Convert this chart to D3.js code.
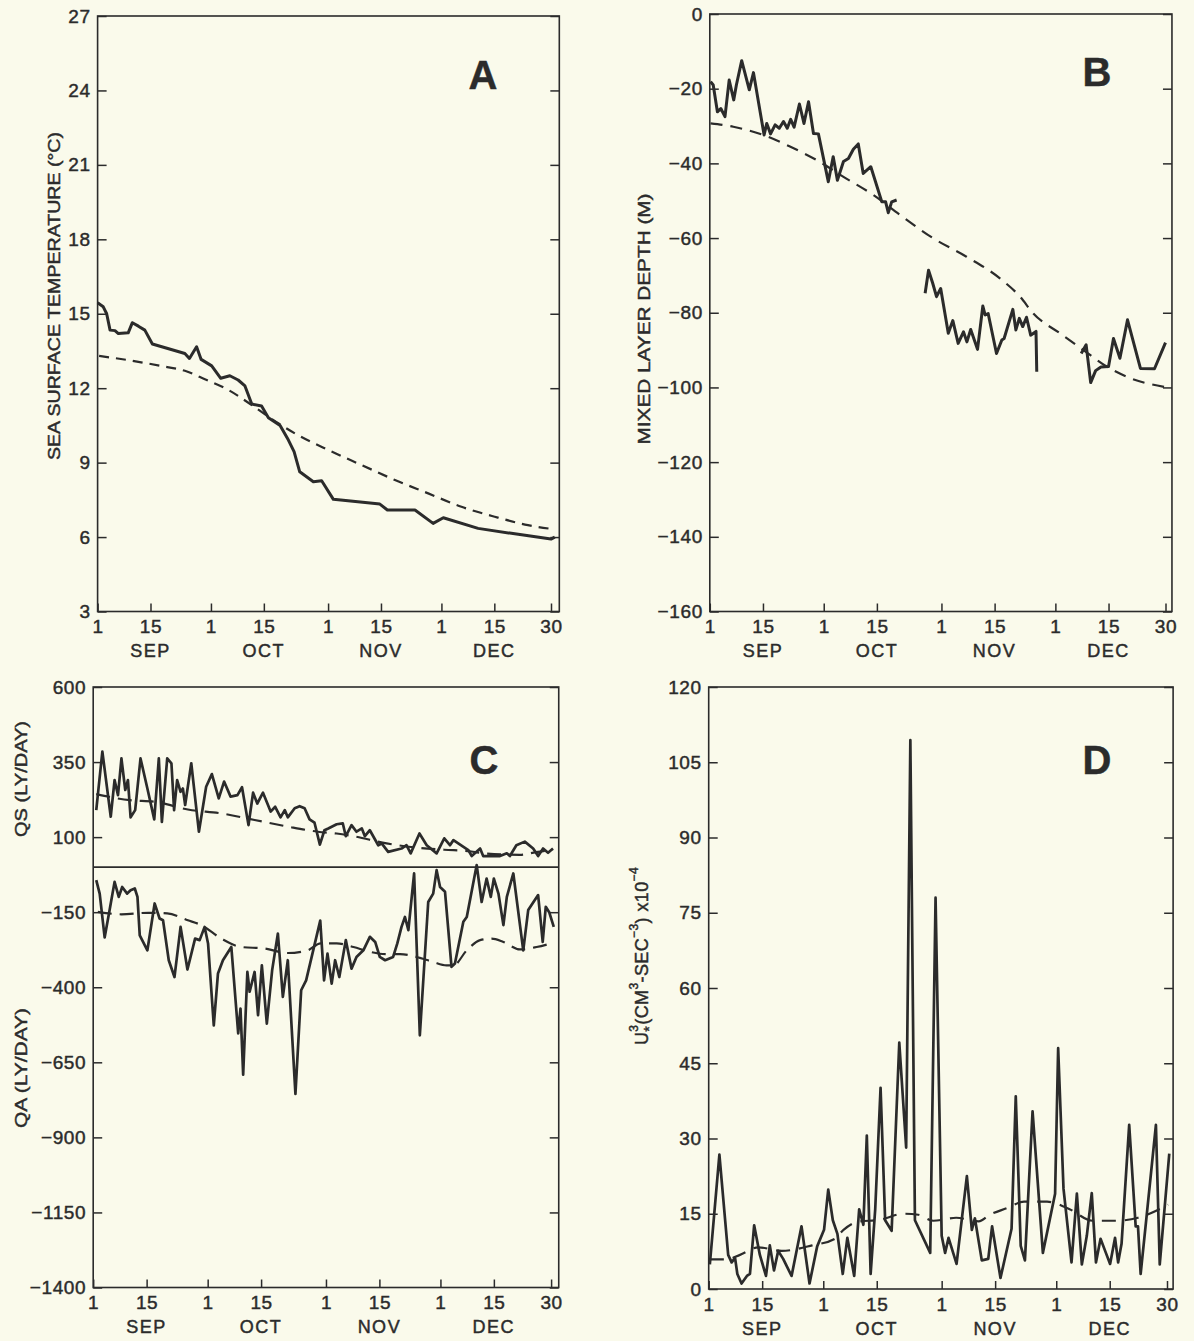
<!DOCTYPE html>
<html>
<head>
<meta charset="utf-8">
<script src="https://cdn.jsdelivr.net/npm/d3@7"></script>
<style>
  html, body { margin: 0; padding: 0; background: #fafaeb; }
  svg { display: block; }
  text { font-family: "Liberation Sans", Arial, Helvetica, sans-serif; fill: #2b2b2b;
         stroke: #2b2b2b; stroke-width: 0.45px; }
</style>
</head>
<body>
<svg id="chart" width="1194" height="1341"></svg>
<script>
// ---- Shared time axis: day 0 = 1 September, day 120 = 30 December ----
const dayTicks      = [0, 14, 30, 44, 61, 75, 91, 105, 120];
const dayTickLabels = ["1", "15", "1", "15", "1", "15", "1", "15", "30"];
const monthNames    = ["SEP", "OCT", "NOV", "DEC"];
const monthMidDays  = [14, 44, 75, 105];

// ---- A: sea surface temperature (°C), [day, value] ----
const sstObserved = [[0,15.44],[1.5,15.28],[2.4,15.0],[3.3,14.34],[4.6,14.32],[5.5,14.2],[8.1,14.23],[9.2,14.64],
  [10.8,14.5],[12.5,14.34],[14.5,13.78],[23.1,13.4],[24.3,13.2],[26.2,13.67],[27.4,13.16],[30.2,12.9],[32.6,12.4],
  [35.0,12.5],[37.2,12.33],[39.0,12.09],[40.8,11.36],[43.4,11.28],[45.2,10.81],[48.3,10.5],[50.5,9.91],[52.0,9.44],
  [53.5,8.63],[57.1,8.23],[59.3,8.27],[62.4,7.52],[74.7,7.33],[76.7,7.09],[84.0,7.09],[88.8,6.55],[91.5,6.78],
  [100.7,6.35],[109.5,6.15],[120,5.92],[121,6.0]];
const sstMean = [[0.4,13.3],[8.1,13.13],[17,12.89],[23.1,12.7],[28.4,12.36],[34.6,11.93],[40.8,11.32],[45.2,10.85],
  [52.2,10.18],[61,9.51],[69.9,8.9],[78.7,8.3],[87.5,7.76],[96.3,7.22],[105.1,6.82],[113.9,6.48],[121,6.31]];
const sstTicks = [3, 6, 9, 12, 15, 18, 21, 24, 27];

// ---- B: mixed layer depth (m); null marks a gap in the record ----
const mldObserved = [[0.2,-18.1],[0.9,-19.0],[2.0,-26.2],[2.9,-25.3],[4.0,-27.5],[5.1,-17.7],[6.3,-23.0],[7.0,-19.0],
  [8.4,-12.5],[10.4,-20.3],[11.5,-15.7],[14.3,-32.4],[15.0,-29.3],[16.0,-32.1],[17.2,-29.7],[18.3,-30.6],[19.4,-28.8],
  [20.4,-30.6],[21.3,-28.2],[22.2,-30.3],[23.6,-24.1],[24.8,-29.3],[26.0,-23.5],[27.3,-32.0],[28.6,-32.1],[31.2,-44.9],
  [32.5,-38.2],[33.6,-44.5],[35.2,-39.5],[36.5,-38.7],[37.8,-36.2],[39.1,-34.8],[40.4,-42.7],[42.4,-40.9],[45.3,-50.3],
  [46.3,-50.3],[47.0,-53.2],[47.9,-50.3],[49.2,-49.8],
  [53,null],
  [56.7,-74.8],[57.6,-68.6],[58.7,-72.1],[59.7,-75.7],[60.8,-73.5],[62.8,-85.5],[64.0,-82.1],[65.4,-88.2],[66.8,-85.1],
  [67.7,-87.8],[68.7,-84.5],[70.5,-89.8],[71.9,-78.2],[72.5,-80.6],[73.3,-80.2],[75.5,-90.9],[76.9,-87.3],[77.5,-86.9],
  [79.8,-79.1],[80.6,-84.6],[81.5,-81.5],[82.4,-83.7],[83.4,-81.2],[84.5,-86.0],[85.9,-85.0],[86.1,-95.8],
  [92,null],
  [97.8,-90.9],[99.1,-88.6],[100.3,-98.7],[101.6,-95.5],[103,-94.5],[105,-94.4],[106.3,-86.9],[108,-92.2],[110,-81.9],
  [113.4,-94.9],[117.1,-95.0],[120,-88.0]];
const mldMean = [[0.2,-29.3],[6.2,-30.2],[14.1,-32.4],[21.1,-35.5],[28.1,-39.1],[35.2,-43.6],[43.1,-48.5],[50.1,-53.8],
  [58.9,-60.1],[67.6,-65.0],[76.4,-70.8],[81.7,-75.7],[85.2,-80.2],[92.2,-85.5],[98.4,-90.0],[104.5,-94.4],
  [110.7,-97.5],[120,-99.9]];
const mldTicks = [-160, -140, -120, -100, -80, -60, -40, -20, 0];

// ---- C: heat fluxes QS (upper) and QA (lower), ly/day ----
const qsObserved = [[0.8,190],[2.4,385],[4.6,168],[5.6,290],[6.5,240],[7.4,362],[8.4,257],[9.1,290],[9.8,166],
  [11.0,190],[12.4,362],[14.2,262],[16.0,159],[17.2,362],[18.0,151],[19.4,362],[20.5,346],[21.2,190],[22.0,290],
  [22.9,251],[23.5,262],[24.1,207],[25.7,346],[27.7,118],[29.6,268],[31.1,310],[32.9,229],[34.3,285],[36.0,235],
  [37.8,240],[39.0,266],[40.7,140],[41.9,248],[43.0,212],[44.5,248],[46.5,185],[47.7,201],[49.1,166],[50.2,190],
  [51.0,166],[52.8,196],[54.1,203],[55.4,196],[56.7,159],[58.0,148],[59.4,75],[60.6,123],[61.6,129],[63.8,143],
  [65.4,146],[66.2,103],[67.7,140],[69.0,118],[70.4,129],[71.2,103],[72.5,123],[74.7,73],[75.6,79],[77.3,51],
  [80.8,62],[82.1,73],[83.2,46],[85.5,112],[87.4,73],[90.0,46],[92.0,96],[93.5,73],[94.4,90],[98.3,57],[99.2,37],
  [101.4,62],[102.2,37],[106.6,37],[108.4,46],[109.2,37],[110.9,73],[113.1,85],[115.3,62],[116.6,37],[117.9,62],
  [119.2,48],[120.5,62]];
const qsMean = [[0.8,243],[9.6,223],[16.1,218],[24.8,192],[33.6,179],[42.3,157],[51.0,135],[58.9,118],[63.8,112],
  [68.2,103],[76.9,79],[85.6,64],[92,58],[98.7,53],[103.1,45],[111.8,41],[116,50],[120.5,58]];
const qaObserved = [[0.8,-43],[1.7,-88],[3.0,-234],[4.3,-143],[5.6,-49],[6.7,-99],[7.6,-66],[8.9,-88],[9.8,-77],
  [10.9,-71],[11.6,-99],[12.2,-227],[14.2,-277],[16.1,-121],[17.4,-171],[18.3,-177],[19.8,-310],[21.3,-366],
  [22.9,-199],[24.7,-341],[26.7,-238],[27.9,-243],[29.2,-199],[30.1,-254],[31.6,-527],[32.7,-354],[34.0,-310],
  [36.2,-266],[38.0,-554],[38.6,-471],[39.3,-691],[40.4,-349],[41.0,-415],[42.3,-349],[43.2,-493],[44.2,-327],
  [45.5,-521],[46.9,-343],[48.4,-221],[49.7,-432],[51.0,-310],[53.0,-755],[54.5,-410],[55.8,-377],[59.5,-178],
  [60.5,-377],[61.4,-288],[62.5,-388],[63.4,-310],[64.5,-366],[66.2,-243],[67.7,-338],[69.0,-299],[70.8,-277],
  [72.5,-232],[73.9,-249],[75.1,-299],[76.5,-310],[78.6,-299],[79.7,-254],[80.8,-199],[81.7,-166],[82.6,-210],
  [84.1,-21],[85.6,-560],[87.8,-116],[89.1,-88],[90.0,-10],[90.9,-66],[92.2,-82],[93.9,-332],[94.8,-321],[97.0,-182],
  [97.9,-166],[100.5,7],[101.8,-116],[103.1,-38],[104.2,-99],[105.0,-38],[106.2,-88],[107.5,-193],[108.4,-99],
  [110.1,-21],[112.7,-277],[114.0,-143],[116.6,-93],[117.8,-249],[118.6,-132],[119.5,-150],[120.7,-199]];
const qaMean = [[1.2,-149],[7.4,-157],[14.4,-152],[19.4,-154],[24.8,-177],[28.3,-193],[33.6,-238],[38.8,-266],
  [44.9,-271],[51.0,-286],[56.2,-277],[59.6,-254],[63.8,-254],[68.2,-266],[72.5,-282],[76.9,-290],[80.4,-290],
  [85.6,-302],[89.1,-316],[92.6,-327],[94.4,-327],[97.9,-277],[101.4,-243],[104.4,-238],[107.5,-249],[111.8,-274],
  [116.2,-266],[120.5,-252]];
const fluxTicks = [-1400, -1150, -900, -650, -400, -150, 100, 350, 600];

// ---- D: friction velocity cubed, u*^3 (cm^3 s^-3) x 10^-4 ----
const ustarObserved = [[0.3,4.9],[2.8,26.8],[5.1,6.8],[6.0,5.3],[6.9,6.2],[7.5,3.0],[8.6,1.1],[10.0,2.6],[10.8,3.0],
  [11.9,12.7],[13.4,6.8],[15.0,2.6],[16.0,8.7],[17.1,3.7],[18.2,7.6],[19.5,6.0],[21.7,2.6],[24.3,12.5],[26.4,1.1],
  [28.4,8.5],[30.2,11.8],[31.3,19.8],[32.5,13.7],[33.7,11.0],[35.1,3.0],[36.3,10.2],[38.1,2.6],[39.4,15.9],
  [40.5,12.8],[41.4,30.6],[42.4,3.0],[43.6,15.9],[45.0,40.1],[46.2,13.7],[47.9,11.6],[49.9,49.1],[51.7,28.2],
  [52.8,109.4],[54.0,13.7],[58.0,7.2],[59.4,78],[61.0,10.6],[61.9,7.2],[62.8,10.2],[64.9,5.0],[67.6,22.5],
  [68.9,11.8],[69.7,14.1],[71.5,5.7],[73.2,6.0],[74.2,12.5],[76.4,2.2],[79.3,12.0],[80.4,38.4],[81.7,8.6],
  [82.8,5.7],[84.8,35.4],[87.5,7.2],[90.7,19.0],[91.5,48.0],[92.9,20.0],[95.0,5.3],[96.4,19.0],[97.7,4.9],
  [99.0,10.6],[100.3,19.1],[101.4,5.3],[102.6,10.0],[103.8,7.6],[105.1,5.0],[106.4,10.2],[107.2,5.3],[108.1,9.0],
  [110.1,32.7],[111.8,12.5],[112.4,12.5],[113.1,3.0],[114.6,14.1],[117.1,32.7],[118.1,4.9],[120.6,27.0]];
const ustarMean = [[0.3,5.9],[4.7,5.9],[8.2,6.8],[13.0,8.3],[19.1,7.6],[27.1,8.7],[33.0,10.0],[35.3,11.8],
  [39.0,13.4],[44.9,13.8],[50.9,15.0],[54.9,14.8],[58.8,13.6],[64.8,14.2],[70.7,13.5],[73.6,14.8],[78.0,16.1],
  [82.6,17.4],[88.6,17.4],[94.5,15.9],[100.5,13.6],[106.4,13.6],[112.4,14.2],[120.3,16.8]];
const ustarTicks = [0, 15, 30, 45, 60, 75, 90, 105, 120];

// ---- drawing ----
const ink = "#2b2b2b";
const svg = d3.select("#chart");
const numFmt = d3.format("d");

function drawPanel(p) {
  const x = d3.scaleLinear().domain([0, 120]).range(p.xRange);
  const y = d3.scaleLinear().domain(p.yDomain).range(p.yRange);
  const left = x(0), right = x(p.dayEnd);
  const top = y(p.yDomain[1]), bottom = y(p.yDomain[0]);
  const g = svg.append("g");

  // left axis with labels, ticks pointing inward
  g.append("g")
    .attr("transform", `translate(${left},0)`)
    .call(d3.axisLeft(y).tickValues(p.yTicks).tickFormat(numFmt)
      .tickSizeInner(-9).tickSizeOuter(0).tickPadding(7))
    .call(a => a.select(".domain").remove());

  // right axis: inward ticks only
  g.append("g")
    .attr("transform", `translate(${right},0)`)
    .call(d3.axisRight(y).tickValues(p.yTicks).tickFormat(() => "")
      .tickSizeInner(-9).tickSizeOuter(0))
    .call(a => a.select(".domain").remove());

  // bottom axis: day-of-month labels
  g.append("g")
    .attr("transform", `translate(0,${bottom})`)
    .call(d3.axisBottom(x).tickValues(dayTicks).tickFormat((d, i) => dayTickLabels[i])
      .tickSizeInner(-8).tickSizeOuter(0).tickPadding(8.5))
    .call(a => a.select(".domain").remove());

  g.selectAll(".tick line").attr("stroke", ink).attr("stroke-width", 1.5);
  g.selectAll(".tick text").attr("fill", ink)
    .style("font-family", '"Liberation Sans", Arial, sans-serif')
    .style("font-size", "19px")
    .style("letter-spacing", "0.6px");

  // month names below the 15th of each month
  g.selectAll("text.month").data(monthNames).join("text")
    .attr("class", "month")
    .attr("x", (d, i) => x(monthMidDays[i]))
    .attr("y", bottom + 45.5)
    .attr("text-anchor", "middle")
    .style("font-size", "18px")
    .style("letter-spacing", "1.5px")
    .text(d => d);

  // frame
  g.append("rect")
    .attr("x", left).attr("y", top)
    .attr("width", right - left).attr("height", bottom - top)
    .attr("fill", "none").attr("stroke", ink).attr("stroke-width", 1.6);

  if (p.zeroLine) {
    g.append("line")
      .attr("x1", left).attr("x2", right)
      .attr("y1", y(0)).attr("y2", y(0))
      .attr("stroke", ink).attr("stroke-width", 1.6);
  }

  // mean curves (dashed) and observed series (solid)
  p.dashed.forEach(s => {
    g.append("path").datum(s)
      .attr("fill", "none").attr("stroke", ink)
      .attr("stroke-width", p.dashWidth)
      .attr("stroke-dasharray", p.dash)
      .attr("d", d3.line().curve(d3.curveMonotoneX).x(d => x(d[0])).y(d => y(d[1])));
  });
  p.solid.forEach(s => {
    g.append("path").datum(s)
      .attr("fill", "none").attr("stroke", ink)
      .attr("stroke-width", p.solidWidth)
      .attr("stroke-linejoin", "round")
      .attr("d", d3.line().defined(d => d[1] !== null).x(d => x(d[0])).y(d => y(d[1])));
  });

  // panel letter
  g.append("text")
    .attr("x", p.letterPos[0]).attr("y", p.letterPos[1])
    .attr("text-anchor", "middle")
    .style("font-size", "40px").style("font-weight", "bold")
    .text(p.letter);

  return g;
}

function verticalTitle(g, cx, cy, text, length) {
  g.append("text")
    .attr("transform", `translate(${cx},${cy}) rotate(-90)`)
    .attr("text-anchor", "middle")
    .attr("dominant-baseline", "central")
    .attr("textLength", length)
    .attr("lengthAdjust", "spacingAndGlyphs")
    .style("font-size", "17px")
    .text(text);
}

const gA = drawPanel({
  xRange: [97.6, 551], dayEnd: 122.2,
  yDomain: [3, 27], yRange: [611.5, 16], yTicks: sstTicks,
  solid: [sstObserved], dashed: [sstMean],
  solidWidth: 3, dashWidth: 2.2, dash: "10 7",
  letter: "A", letterPos: [483, 89]
});
verticalTitle(gA, 54, 296, "SEA SURFACE TEMPERATURE (°C)", 328);

const gB = drawPanel({
  xRange: [709.8, 1165.5], dayEnd: 121.7,
  yDomain: [-160, 0], yRange: [611.5, 14], yTicks: mldTicks,
  solid: [mldObserved], dashed: [mldMean],
  solidWidth: 3, dashWidth: 2.2, dash: "12 8",
  letter: "B", letterPos: [1097, 86]
});
verticalTitle(gB, 644, 319, "MIXED LAYER DEPTH (M)", 251);

const gC = drawPanel({
  xRange: [93.2, 551.1], dayEnd: 122,
  yDomain: [-1400, 600], yRange: [1287.5, 687], yTicks: fluxTicks,
  solid: [qsObserved, qaObserved], dashed: [qsMean, qaMean],
  solidWidth: 2.7, dashWidth: 2.2, dash: "14 8", zeroLine: true,
  letter: "C", letterPos: [484, 774]
});
verticalTitle(gC, 21, 779, "QS (LY/DAY)", 116);
verticalTitle(gC, 21, 1068, "QA (LY/DAY)", 120);

const gD = drawPanel({
  xRange: [708.7, 1167], dayEnd: 121.6,
  yDomain: [0, 120], yRange: [1289, 687], yTicks: ustarTicks,
  solid: [ustarObserved], dashed: [ustarMean],
  solidWidth: 2.7, dashWidth: 2.2, dash: "14 9",
  letter: "D", letterPos: [1097, 774]
});

// u*^3 title with super/subscripts
const tD = gD.append("text")
  .attr("transform", "translate(642,956) rotate(-90)")
  .attr("text-anchor", "middle")
  .attr("dominant-baseline", "central")
  .style("font-size", "18px")
  .style("letter-spacing", "0.4px");
tD.append("tspan").text("U");
tD.append("tspan").attr("dy", -8).style("font-size", "12px").text("3");
tD.append("tspan").attr("dx", -7).attr("dy", 15).style("font-size", "14px").text("*");
tD.append("tspan").attr("dx", 1).attr("dy", -7).text("(CM");
tD.append("tspan").attr("dy", -8).style("font-size", "12px").text("3");
tD.append("tspan").attr("dy", 8).text("-SEC");
tD.append("tspan").attr("dy", -8).style("font-size", "12px").text("−3");
tD.append("tspan").attr("dy", 8).text(") x10");
tD.append("tspan").attr("dy", -8).style("font-size", "12px").text("−4");
</script>
</body>
</html>
